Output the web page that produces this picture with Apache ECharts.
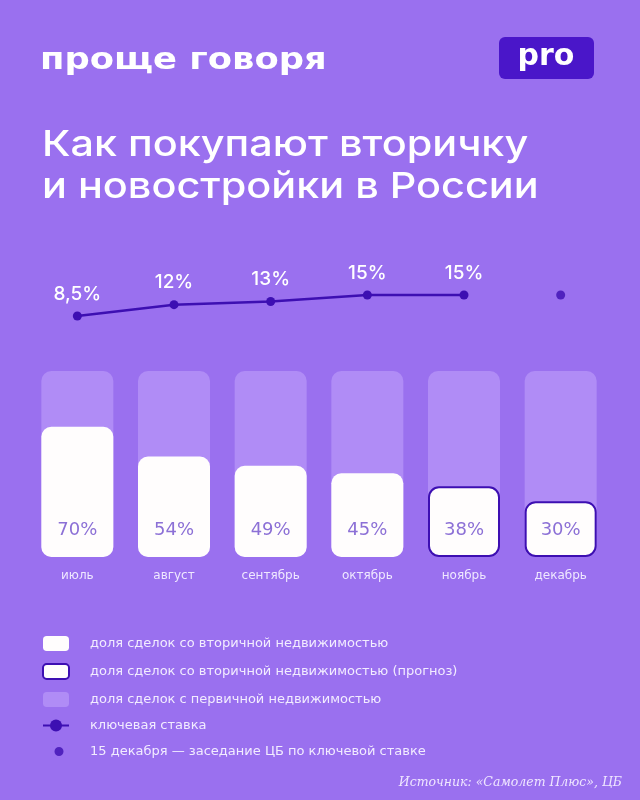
<!DOCTYPE html>
<html>
<head>
<meta charset="utf-8">
<script src="https://cdn.jsdelivr.net/npm/echarts@6/dist/echarts.min.js"></script>
<style>
  html, body { margin: 0; padding: 0; background: #9a70ef; }
  #chart { width: 640px; height: 800px; }
</style>
</head>
<body>
<div id="chart"></div>
<script>
// months
const months = ["июль", "август", "сентябрь", "октябрь", "ноябрь", "декабрь"];
// share of secondary-market deals, %
const secondaryShare = [70, 54, 49, 45, null, null];
const secondaryForecast = [null, null, null, null, 38, 30];
// share of new-build deals, %
const primaryShare = [30, 46, 51, 55, 62, 70];
// key rate, %
const keyRate = [8.5, 12, 13, 15, 15, null];
// Dec 15 CB meeting marker (drawn at the current rate level)
const cbMeeting = [null, null, null, null, null, 15];

const names = {
  secondary: "доля сделок со вторичной недвижимостью",
  forecast: "доля сделок со вторичной недвижимостью (прогноз)",
  primary: "доля сделок с первичной недвижимостью",
  rate: "ключевая ставка",
  meeting: "15 декабря — заседание ЦБ по ключевой ставке"
};

const BG = "#9a70ef";
const LIGHT = "#b08cf6";
const DARK = "#3d0fb2";
const VALUE_TXT = "#8c70d6";

const total = primaryShare.map((p, i) => p + (secondaryShare[i] ?? secondaryForecast[i]));

const chart = echarts.init(document.getElementById("chart"));

const valueLabel = {
  show: true,
  position: "insideBottom",
  distance: 18,
  color: VALUE_TXT,
  fontSize: 18,
  fontFamily: "DejaVu Sans",
  formatter: p => p.value + "%"
};

chart.setOption({
  backgroundColor: BG,
  animation: false,
  graphic: [
    {
      type: "text",
      x: 40, y: 45,
      scaleX: 1.14,
      style: { text: "проще говоря", fill: "#fff", font: "bold 31px 'DejaVu Sans'" }
    },
    {
      type: "rect",
      shape: { x: 499, y: 37, width: 95, height: 42, r: 6 },
      style: { fill: "#4a16c9" }
    },
    {
      type: "text",
      x: 546, y: 57,
      style: { text: "pro", fill: "#fff", font: "bold 30px 'DejaVu Sans'", align: "center", verticalAlign: "middle" }
    },
    {
      type: "text",
      x: 42, y: 145,
      scaleX: 1.15,
      style: { text: "Как покупают вторичку", fill: "#fff", font: "500 36px Inter", verticalAlign: "middle" }
    },
    {
      type: "text",
      x: 42, y: 187,
      scaleX: 1.15,
      style: { text: "и новостройки в России", fill: "#fff", font: "500 36px Inter", verticalAlign: "middle" }
    },
    {
      type: "text",
      x: 622, y: 783,
      style: {
        text: "Источник: «Самолет Плюс», ЦБ",
        fill: "#efe6ff",
        font: "italic 12.5px 'DejaVu Serif'",
        align: "right",
        verticalAlign: "middle"
      }
    }
  ],
  legend: {
    orient: "vertical",
    left: 42,
    top: 636,
    padding: 0,
    itemWidth: 26,
    itemHeight: 15,
    itemGap: 12,
    selectedMode: false,
    textStyle: { color: "#f2ecff", fontSize: 13, fontFamily: "DejaVu Sans", padding: [0, 0, 0, 16] },
    data: [
      { name: names.secondary, icon: "roundRect" },
      { name: names.forecast, icon: "roundRect" },
      { name: names.primary, icon: "roundRect" },
      { name: names.rate },
      { name: names.meeting, icon: "path://M0,0L0.1,0M30,30L29.9,30M21,6A9,9 0 1 1 20.99,6Z" }
    ]
  },
  grid: [
    { left: 29, width: 580, top: 371, height: 186 },
    { left: 29, width: 580, top: 285, height: 40 }
  ],
  xAxis: [
    {
      type: "category", gridIndex: 0, data: months,
      axisLine: { show: false }, axisTick: { show: false },
      axisLabel: { color: "#efe8ff", fontSize: 12, fontFamily: "DejaVu Sans", margin: 13 }
    },
    { type: "category", gridIndex: 1, data: months, show: false }
  ],
  yAxis: [
    { type: "value", gridIndex: 0, min: 0, max: 100, show: false },
    { type: "value", gridIndex: 1, min: 5.7, max: 18.1, show: false }
  ],
  series: [
    {
      name: names.primary, type: "bar", data: total,
      barWidth: 72, barGap: "-100%",
      itemStyle: { color: LIGHT, borderRadius: 10 }
    },
    {
      name: names.secondary, type: "bar", data: secondaryShare,
      barWidth: 72, barGap: "-100%",
      itemStyle: { color: "#fffdfd", borderRadius: 10 },
      label: valueLabel
    },
    {
      name: names.forecast, type: "bar", data: secondaryForecast,
      barWidth: 72, barGap: "-100%",
      itemStyle: { color: "#fffdfd", borderRadius: 10, borderColor: DARK, borderWidth: 2 },
      label: valueLabel
    },
    {
      name: names.rate, type: "line", xAxisIndex: 1, yAxisIndex: 1,
      data: keyRate,
      symbol: "circle", symbolSize: 9,
      lineStyle: { color: DARK, width: 2.5 },
      itemStyle: { color: DARK },
      label: {
        show: true, position: "top", distance: 8,
        color: "#fff", fontSize: 19, fontWeight: 500, fontFamily: "Inter",
        formatter: p => String(p.value).replace(".", ",") + "%"
      }
    },
    {
      name: names.meeting, type: "scatter", xAxisIndex: 1, yAxisIndex: 1,
      data: cbMeeting,
      symbol: "circle", symbolSize: 9,
      itemStyle: { color: DARK }
    }
  ]
});
</script>
</body>
</html>
